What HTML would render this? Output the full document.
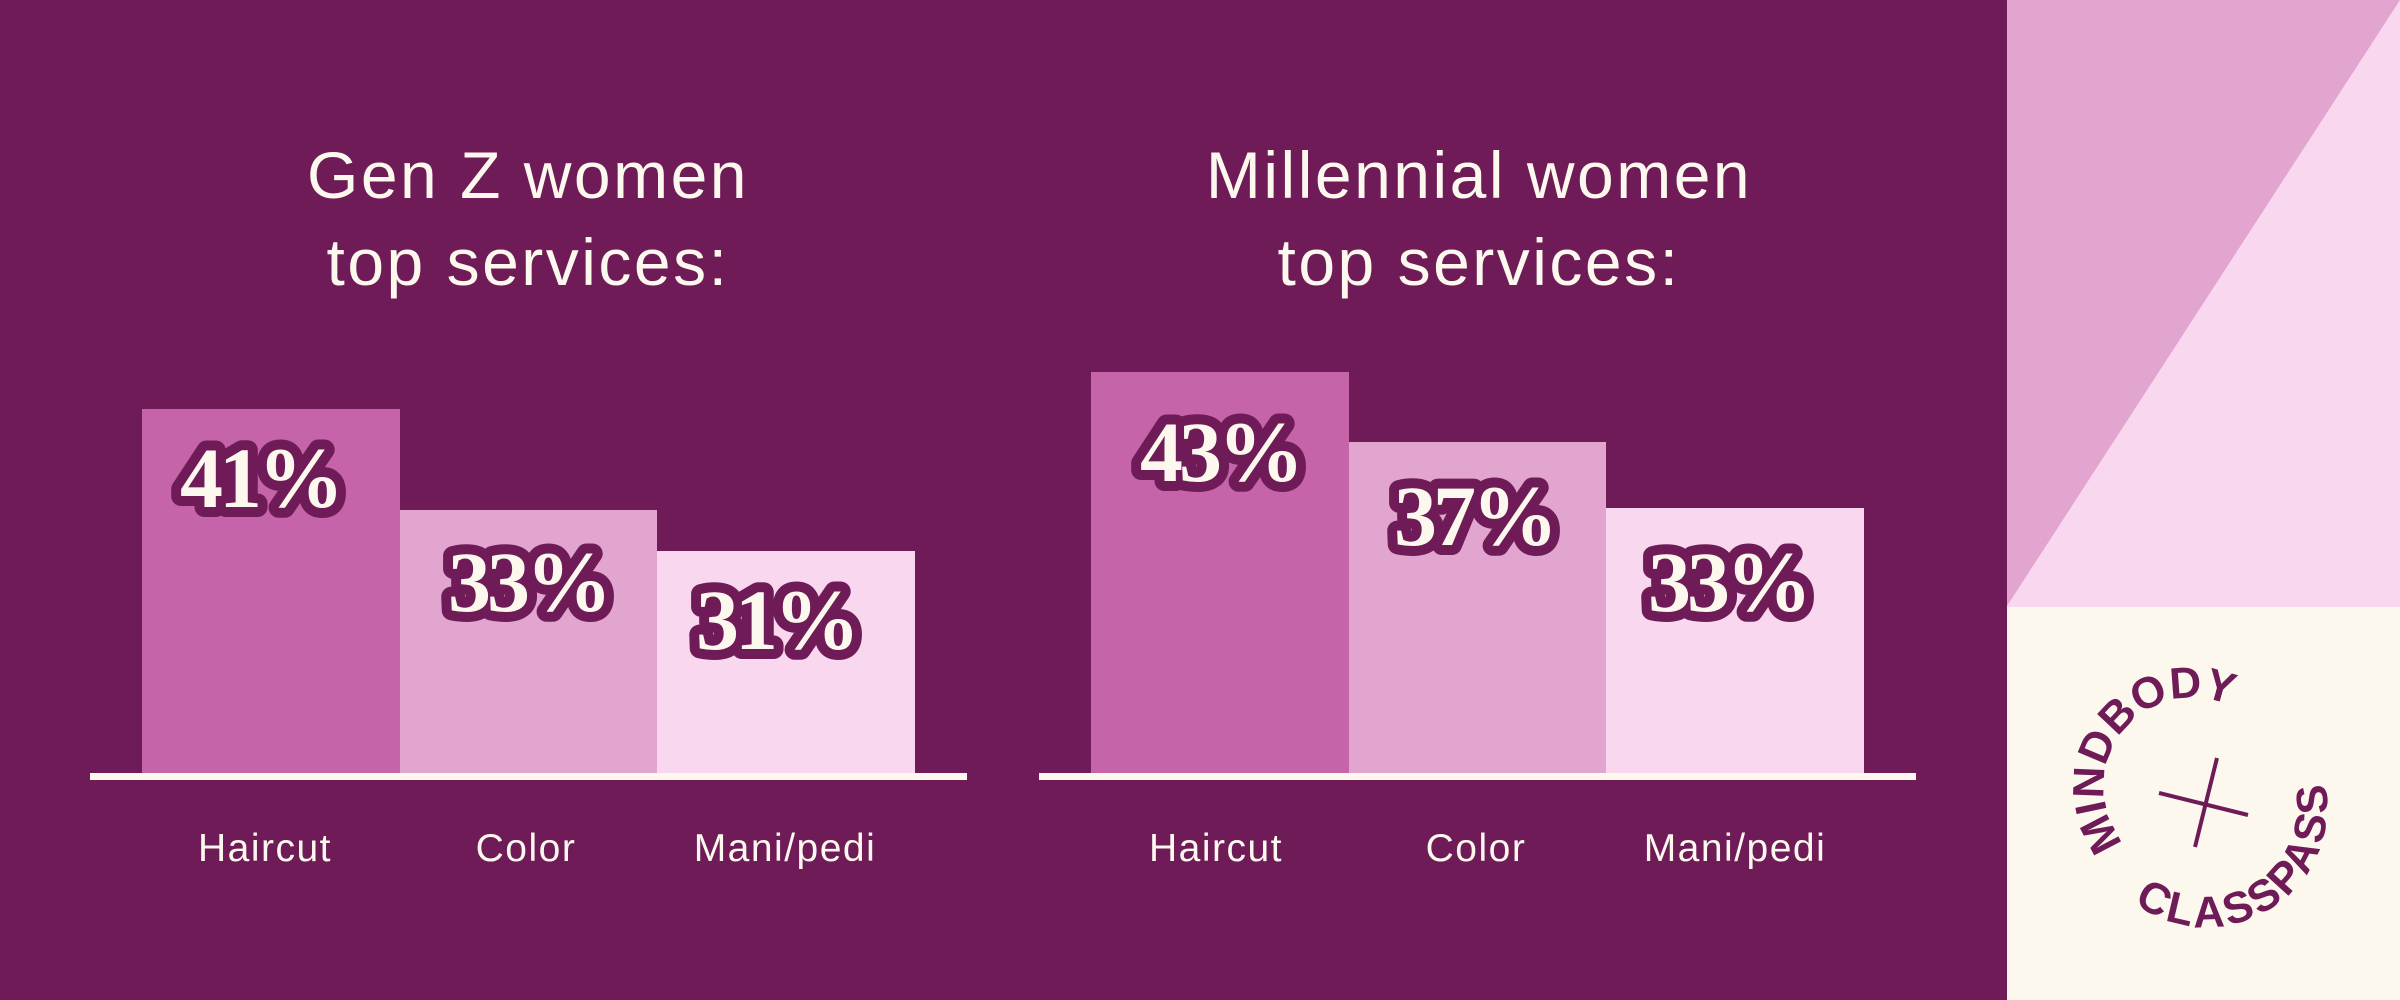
<!DOCTYPE html>
<html><head><meta charset="utf-8"><style>
html,body{margin:0;padding:0;background:#6f1b57;}
svg{display:block}
</style></head><body>
<svg width="2400" height="1000" viewBox="0 0 2400 1000" xmlns="http://www.w3.org/2000/svg">
<rect width="2400" height="1000" fill="#6f1b57"/>
<!-- right panel -->
<rect x="2007" y="0" width="393" height="608" fill="#f9d7ef"/>
<polygon points="2007,0 2400,0 2007,606" fill="#e2a5d0"/>
<rect x="2007" y="607" width="393" height="393" fill="#fcf8ee"/>
<!-- titles -->
<g font-family="Liberation Sans, sans-serif" font-size="66" fill="#fcf8ee" text-anchor="middle" letter-spacing="2.5">
<text x="528" y="198">Gen Z women</text>
<text x="528" y="285">top services:</text>
<text x="1479" y="198">Millennial women</text>
<text x="1479" y="285">top services:</text>
</g>
<!-- left bars -->
<rect x="142" y="409" width="258" height="367" fill="#c564a8"/>
<rect x="400" y="510" width="257" height="266" fill="#e2a5d0"/>
<rect x="657" y="551" width="258" height="225" fill="#f9d7ef"/>
<rect x="90" y="773" width="877" height="7" fill="#fcf8ee"/>
<!-- right bars -->
<rect x="1091" y="372" width="258" height="404" fill="#c564a8"/>
<rect x="1349" y="442" width="257" height="334" fill="#e2a5d0"/>
<rect x="1606" y="508" width="258" height="268" fill="#f9d7ef"/>
<rect x="1039" y="773" width="877" height="7" fill="#fcf8ee"/>
<!-- percentages -->
<g font-family="Liberation Serif, serif" font-weight="bold" font-size="86" fill="#fcf8ee" stroke="#6f1b57" stroke-width="20" stroke-linejoin="round" paint-order="stroke" text-anchor="middle" letter-spacing="-4">
<text x="260" y="507">41%</text>
<text x="528" y="611">33%</text>
<text x="776" y="649">31%</text>
<text x="1220" y="481">43%</text>
<text x="1474" y="545">37%</text>
<text x="1728" y="611">33%</text>
</g>
<!-- labels -->
<g font-family="Liberation Sans, sans-serif" font-size="39" fill="#fcf8ee" text-anchor="middle" letter-spacing="1.5">
<text x="265" y="861">Haircut</text>
<text x="526" y="861">Color</text>
<text x="785" y="861">Mani/pedi</text>
<text x="1216" y="861">Haircut</text>
<text x="1476" y="861">Color</text>
<text x="1735" y="861">Mani/pedi</text>
</g>
<!-- logo -->
<defs>
<path id="arcTop" d="M2124,843 A89,89 0 1 1 2273,748"/>
<path id="arcBot" d="M2134,903 A121,121 0 0 0 2298,727"/>
</defs>
<g font-family="Liberation Sans, sans-serif" font-weight="bold" font-size="44" fill="#6f1b57">
<text><textPath href="#arcTop">MINDBODY</textPath></text>
<text letter-spacing="3"><textPath href="#arcBot">CLASSPASS</textPath></text>
</g>
<line x1="2159" y1="793" x2="2248" y2="815" stroke="#6f1b57" stroke-width="4"/>
<line x1="2217" y1="758" x2="2195" y2="847" stroke="#6f1b57" stroke-width="4"/>
</svg>
</body></html>
